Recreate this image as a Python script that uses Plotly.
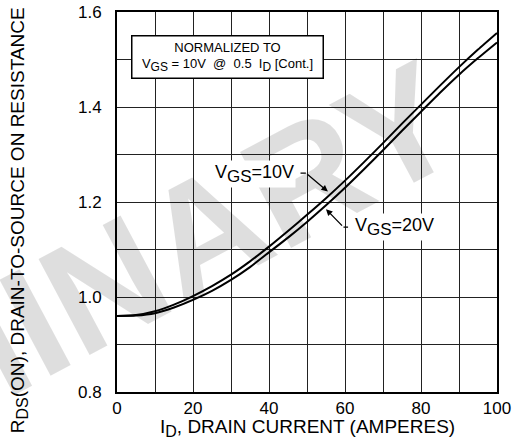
import plotly.graph_objects as go

# Drain current (A)
drain_current = [0, 5, 10, 15, 20, 25, 30, 35, 40, 45, 50, 55, 60, 65, 70, 75, 80, 85, 90, 95, 100]
# Normalized RDS(on), VGS = 10 V
rds_vgs10 = [0.960, 0.962, 0.970, 0.984, 1.002, 1.023, 1.047, 1.075, 1.106, 1.139, 1.173,
             1.208, 1.245, 1.284, 1.324, 1.365, 1.405, 1.445, 1.484, 1.521, 1.556]
# Normalized RDS(on), VGS = 20 V
rds_vgs20 = [0.960, 0.961, 0.966, 0.978, 0.994, 1.013, 1.036, 1.063, 1.094, 1.125, 1.158,
             1.193, 1.230, 1.269, 1.309, 1.350, 1.390, 1.430, 1.468, 1.503, 1.536]

x_ticks = [0, 20, 40, 60, 80, 100]
x_tick_text = ["0", "20", "40", "60", "80", "100"]
y_ticks = [0.8, 1.0, 1.2, 1.4, 1.6]
y_tick_text = ["0.8", "1.0", "1.2", "1.4", "1.6"]

FONT = "Liberation Sans, Arial, sans-serif"
NB = "\u00a0"


def sub(txt, size):
    return "<sub><span style='font-size:%dpx'>%s</span></sub>" % (size, txt)


fig = go.Figure()
fig.add_trace(go.Scatter(x=drain_current, y=rds_vgs10, mode="lines",
                         line=dict(color="black", width=2, shape="spline", smoothing=0.6),
                         name="VGS=10V", showlegend=False, hoverinfo="skip"))
fig.add_trace(go.Scatter(x=drain_current, y=rds_vgs20, mode="lines",
                         line=dict(color="black", width=2, shape="spline", smoothing=0.6),
                         name="VGS=20V", showlegend=False, hoverinfo="skip"))

grid_col = "#222222"
fig.update_xaxes(range=[0, 100], tickvals=x_ticks, ticktext=x_tick_text, automargin=False,
                 showgrid=True, gridcolor=grid_col, gridwidth=1,
                 minor=dict(dtick=10, showgrid=True, gridcolor=grid_col, gridwidth=1),
                 showline=True, linecolor="black", linewidth=2, mirror=True,
                 ticks="", ticklabelstandoff=0, zeroline=False,
                 tickfont=dict(family=FONT, size=17, color="black"))
fig.update_yaxes(range=[0.8, 1.6], tickvals=y_ticks, ticktext=y_tick_text, automargin=False,
                 showgrid=True, gridcolor=grid_col, gridwidth=1,
                 minor=dict(dtick=0.1, showgrid=True, gridcolor=grid_col, gridwidth=1),
                 showline=True, linecolor="black", linewidth=2, mirror=True,
                 ticks="", ticklabelstandoff=10, zeroline=False,
                 tickfont=dict(family=FONT, size=17, color="black"))

annotations = []
# watermark
annotations.append(dict(text="<b>PRELIMINARY</b>", xref="paper", yref="paper",
                        x=-0.395, y=0.09, xanchor="center", yanchor="middle",
                        textangle=-28, showarrow=False,
                        font=dict(family=FONT, size=158, color="rgba(0,0,0,0.13)")))
# axis titles
annotations.append(dict(text="I" + sub("D", 16) + ", DRAIN CURRENT (AMPERES)", xref="paper", yref="paper",
                        x=0.5, y=-0.094, xanchor="center", yanchor="middle", showarrow=False,
                        font=dict(family=FONT, size=19, color="black")))
annotations.append(dict(text="R" + sub("DS", 16) + "(ON), DRAIN-TO-SOURCE ON RESISTANCE", xref="paper", yref="paper",
                        x=-0.258, y=0.452, xanchor="center", yanchor="middle", textangle=-90,
                        showarrow=False, font=dict(family=FONT, size=19, color="black")))
# normalization box
annotations.append(dict(text="NORMALIZED TO<br>V" + sub("GS", 12) + " = 10V" + NB * 2 + "@" + NB * 2 + "0.5" + NB * 2
                        + "I" + sub("D", 12) + " [Cont.]",
                        xref="paper", yref="paper", x=0.290, y=0.882, xanchor="center", yanchor="middle",
                        showarrow=False, align="center", bgcolor="white", bordercolor="black",
                        borderwidth=1.5, borderpad=3, width=184,
                        font=dict(family=FONT, size=13, color="black")))
# curve labels
annotations.append(dict(text="V" + sub("GS", 17) + "=10V", xref="x", yref="y", x=47.1, y=1.258,
                        xanchor="right", yanchor="middle", showarrow=False, bgcolor="white",
                        font=dict(family=FONT, size=18, color="black")))
annotations.append(dict(text="V" + sub("GS", 17) + "=20V", xref="x", yref="y", x=62.1, y=1.147,
                        xanchor="left", yanchor="middle", showarrow=False, bgcolor="white",
                        font=dict(family=FONT, size=18, color="black")))
# leaders
annotations.append(dict(text="", xref="x", yref="y", axref="x", ayref="y",
                        x=55.5, y=1.222, ax=49.7, ay=1.261, showarrow=True,
                        arrowhead=2, arrowsize=1, arrowwidth=1.3, arrowcolor="black", standoff=0))
annotations.append(dict(text="", xref="x", yref="y", axref="x", ayref="y",
                        x=49.7, y=1.261, ax=47.9, ay=1.261, showarrow=True,
                        arrowhead=0, arrowwidth=1.3, arrowcolor="black", standoff=0))
annotations.append(dict(text="", xref="x", yref="y", axref="x", ayref="y",
                        x=55.0, y=1.185, ax=59.6, ay=1.147, showarrow=True,
                        arrowhead=2, arrowsize=1, arrowwidth=1.3, arrowcolor="black", standoff=0))
annotations.append(dict(text="", xref="x", yref="y", axref="x", ayref="y",
                        x=59.6, y=1.147, ax=61.2, ay=1.147, showarrow=True,
                        arrowhead=0, arrowwidth=1.3, arrowcolor="black", standoff=0))

fig.update_layout(width=516, height=440, template="none",
                  margin=dict(l=117, r=19, t=12, b=48, autoexpand=False),
                  paper_bgcolor="white", plot_bgcolor="white",
                  annotations=annotations, showlegend=False)

fig.write_html("out.html", config={"displayModeBar": False},
               post_script="document.body.style.margin='0';document.body.style.overflow='hidden';")
